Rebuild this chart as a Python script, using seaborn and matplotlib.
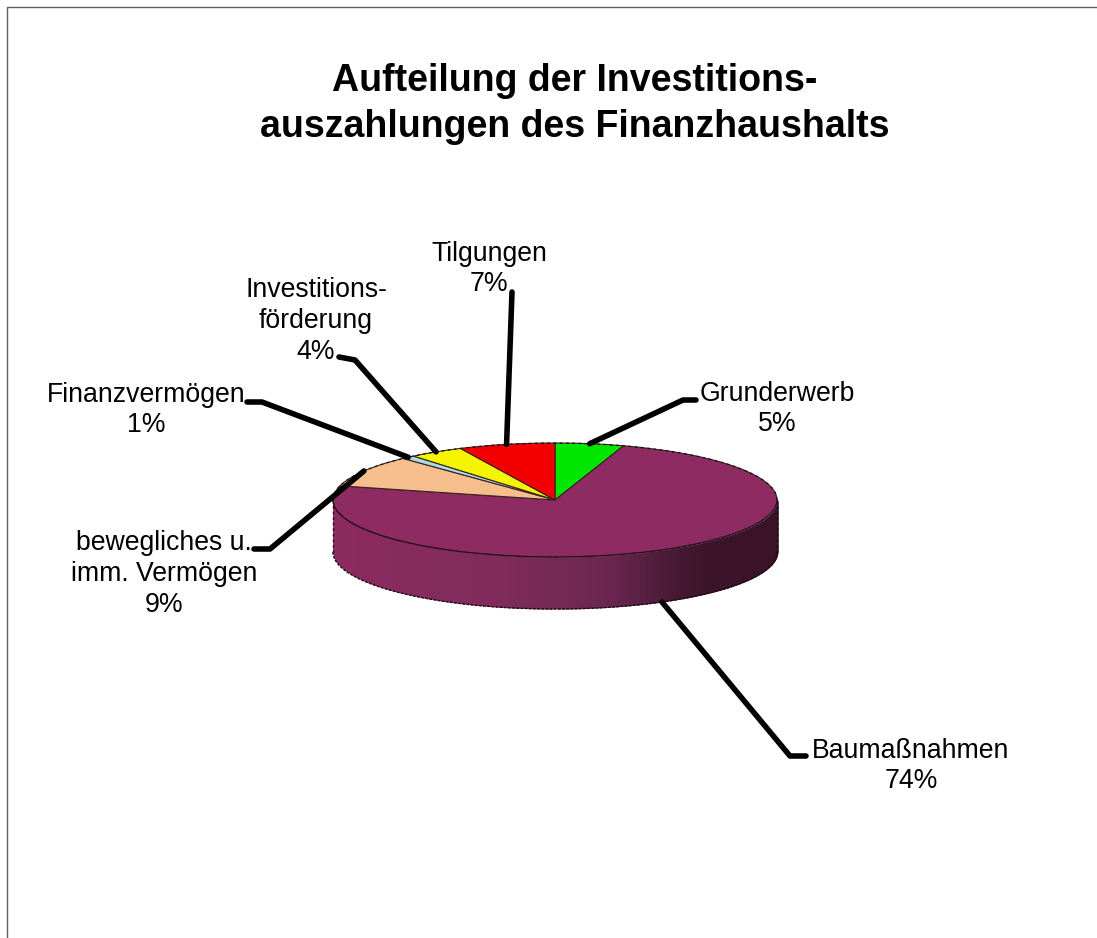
import numpy as np
import matplotlib
matplotlib.use("Agg")
import matplotlib.pyplot as plt
from matplotlib.colors import LinearSegmentedColormap
import seaborn as sns

# --- data ---
categories = ["Grunderwerb", "Baumaßnahmen", "bewegliches u.\nimm. Vermögen",
              "Finanzvermögen", "Investitions-\nförderung", "Tilgungen"]
shares = [5, 74, 9, 1, 4, 7]
title = "Aufteilung der Investitions-\nauszahlungen des Finanzhaushalts"

# --- style / layout (pixel positions of the reference) ---
colors = ["#00E600", "#8D2B62", "#F5BE8C", "#A8DCE0", "#F5F500", "#F20000"]
W, H = 1097, 938
CX, CY, RX, RY, DEPTH = 555, 500, 222, 57, 52
label_pos = [(777, 409), (911, 766), (164, 574), (146, 410), (316, 321), (489, 269)]
leader_tail = [[(683, 400), (696, 400)], [(790, 756), (806, 756)],
               [(270, 549), (254, 549)], [(262, 402), (247, 402)],
               [(355, 360), (339, 357)], [(512, 292)]]
on_wall = [False, True, False, False, False, False]

sns.set_theme(style="white")
plt.rcParams["font.family"] = ["Liberation Sans", "DejaVu Sans"]
palette = sns.color_palette(colors)

fig = plt.figure(figsize=(W / 100, H / 100), dpi=100, facecolor="white")

# pie axes: unit circle stretched to the ellipse of the tilted disc
ax = fig.add_axes([(CX - RX) / W, 1 - (CY + RY) / H, 2 * RX / W, 2 * RY / H])
wedges, _ = ax.pie(shares, colors=palette, startangle=90, counterclock=False,
                   radius=1, wedgeprops=dict(linewidth=0.8, edgecolor="#3a2020", zorder=3))
ax.set_aspect("auto")
ax.set_xlim(-1, 1)
ax.set_ylim(-1, 1)
ax.axis("off")
ax.patch.set_alpha(0)
for w in wedges:
    w.set_clip_on(False)

# side wall of the disc, shaded from left to right
wall_cmap = LinearSegmentedColormap.from_list(
    "wall", [(0, "#8C2B60"), (0.38, "#7F2B5C"), (0.62, "#6A2650"),
             (0.78, "#451831"), (0.85, "#3C1429"), (1, "#3A1328")])
d = DEPTH / RY
for w in wedges:
    lo, hi = max(w.theta1, -180), min(w.theta2, 0)
    if hi <= lo:
        continue
    th = np.radians(np.linspace(lo, hi, 240))
    x, y = np.cos(th), np.sin(th)
    for i in range(len(th) - 1):
        xs = [x[i], x[i + 1] + 0.004]
        ax.fill_between(xs, [y[i], y[i + 1]], [y[i] - d, y[i + 1] - d],
                        color=wall_cmap((x[i] + 1) / 2), lw=0, zorder=1, clip_on=False)
    ax.plot(x, y - d, color="#1a0a10", lw=1.0, ls=(0, (2, 1)), zorder=2, clip_on=False)
    ax.plot(x, y, color="#2a0f1e", lw=0.9, zorder=4, clip_on=False)
    ax.plot([-1, -1], [0, -d], color="#1a0a10", lw=1.0, ls=(0, (2, 2)), zorder=2, clip_on=False)
    ax.plot([1, 1], [0, -d], color="#1a0a10", lw=1.0, ls=(0, (2, 2)), zorder=2, clip_on=False)
back = np.radians(np.linspace(0, 180, 200))
ax.plot(np.cos(back), np.sin(back), color="#111111", lw=0.9, ls=(0, (2, 3)), zorder=4, clip_on=False)

# overlay in pixel coordinates: frame, leaders, texts
ov = fig.add_axes([0, 0, 1, 1], zorder=5)
ov.set_xlim(0, W)
ov.set_ylim(H, 0)
ov.axis("off")
ov.patch.set_alpha(0)

ov.plot([6.5, 6.5, W], [H, 7.5, 7.5], color="#606060", lw=1.0, solid_joinstyle="miter")
ov.text(575, 104, title, ha="center", va="center", fontsize=27, fontweight="bold",
        color="black", linespacing=1.33)

for w, name, share, pos, tail, wall in zip(wedges, categories, shares, label_pos, leader_tail, on_wall):
    mid = np.radians((w.theta1 + w.theta2) / 2)
    sx = CX + RX * np.cos(mid)
    sy = CY - RY * np.sin(mid) + (DEPTH if wall else 0)
    px = [sx] + [p[0] for p in tail]
    py = [sy] + [p[1] for p in tail]
    ov.plot(px, py, color="black", lw=4.0, solid_capstyle="round", solid_joinstyle="round")
    ov.text(pos[0], pos[1], f"{name}\n{share}%", ha="center", va="center",
            fontsize=19.2, color="black", linespacing=1.24)

fig.savefig("out.png", dpi=100, facecolor="white")
